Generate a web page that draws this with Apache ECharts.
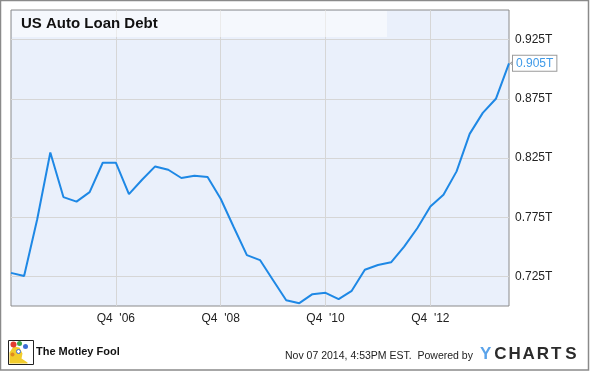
<!DOCTYPE html>
<html><head><meta charset="utf-8">
<script src="https://cdn.jsdelivr.net/npm/echarts@6/dist/echarts.min.js"></script>
<style>html,body{margin:0;padding:0;background:#fff}#c{width:590px;height:371px}</style>
</head><body><div id="c"></div><script>
const categories = ["Q4 '04","Q1 '05","Q2 '05","Q3 '05","Q4 '05","Q1 '06","Q2 '06","Q3 '06","Q4 '06","Q1 '07","Q2 '07","Q3 '07","Q4 '07","Q1 '08","Q2 '08","Q3 '08","Q4 '08","Q1 '09","Q2 '09","Q3 '09","Q4 '09","Q1 '10","Q2 '10","Q3 '10","Q4 '10","Q1 '11","Q2 '11","Q3 '11","Q4 '11","Q1 '12","Q2 '12","Q3 '12","Q4 '12","Q1 '13","Q2 '13","Q3 '13","Q4 '13","Q1 '14","Q2 '14"];
const autoLoanDebt = [0.728,0.7253,0.7733,0.8297,0.792,0.7882,0.7962,0.821,0.821,0.7945,0.8066,0.8179,0.8151,0.8081,0.810,0.8089,0.7906,0.7665,0.743,0.7388,0.7218,0.7049,0.7024,0.710,0.7111,0.7058,0.7128,0.7306,0.7346,0.7369,0.7502,0.7657,0.784,0.794,0.8137,0.8454,0.8631,0.875,0.905];
const xTickLabels = ["Q4 '06","Q4 '08","Q4 '10","Q4 '12"];
const yTickLabels = [0.725,0.775,0.825,0.875,0.925];

const chart = echarts.init(document.getElementById('c'), null, {renderer:'canvas'});
const FONT = 'Liberation Sans, Arial, sans-serif';
const lastIdx = autoLoanDebt.length - 1;
const isYTick = v => yTickLabels.some(t => Math.abs(t - v) < 1e-6);

const brand = 'YCHARTS'.split('');
const brandText = brand.map((ch, i) => ({
  type:'text', z:11, left:480 + i * 14.2, top:346,
  style:{text:ch, font:'bold 17px ' + FONT, fill: i === 0 ? '#5aa3ea' : '#2b2b2b'}
}));

chart.setOption({
  animation:false,
  backgroundColor:'#fff',
  grid:{left:11, right:81, top:10, bottom:65, show:true, backgroundColor:'#EAF0FB', borderColor:'#8a8a8a', borderWidth:1},
  xAxis:{
    type:'category', data:categories, boundaryGap:false,
    axisLine:{show:false}, axisTick:{show:false},
    axisLabel:{
      interval:(i, v) => xTickLabels.includes(v),
      formatter:v => v.replace(' ', '  '),
      color:'#222', fontSize:12, fontFamily:FONT, margin:7
    },
    splitLine:{show:true, interval:(i, v) => xTickLabels.includes(v), lineStyle:{color:'#d6d6d6', width:1}}
  },
  yAxis:{
    type:'value', position:'right', min:0.7, max:0.95, interval:0.025,
    axisLine:{show:false}, axisTick:{show:false},
    axisLabel:{formatter:v => isYTick(v) ? v.toFixed(3) + 'T' : '', color:'#222', fontSize:12, fontFamily:FONT, margin:6},
    splitLine:{show:true, lineStyle:{color:['rgba(0,0,0,0)','#d6d6d6'], width:1}}
  },
  series:[{
    type:'line', data:autoLoanDebt, symbol:'none', z:5,
    lineStyle:{color:'#1E88E5', width:2},
    endLabel:{
      show:true, formatter:p => p.value.toFixed(3) + 'T', color:'#3f9ae8', fontSize:12, fontFamily:FONT,
      backgroundColor:'#fff', borderColor:'#9a9a9a', borderWidth:1, padding:[2,3,1,3], distance:4
    },
    markPoint:{
      silent:true, symbol:'triangle', symbolSize:[8,5], symbolRotate:90, symbolOffset:[4,0],
      itemStyle:{color:'#fff', borderColor:'#9a9a9a', borderWidth:1},
      label:{show:false},
      data:[{coord:[lastIdx, autoLoanDebt[lastIdx]]}]
    }
  }],
  graphic:[
    {type:'rect', z:0, silent:true, shape:{x:0.5, y:0.5, width:588, height:369.5}, style:{fill:'none', stroke:'#8a8a8a', lineWidth:1.5}},
    {type:'rect', z:10, silent:true, shape:{x:12, y:11, width:375, height:26}, style:{fill:'rgba(255,255,255,0.5)'}},
    {type:'text', z:11, left:21, top:16, style:{text:'US Auto Loan Debt', font:'bold 15px ' + FONT, fill:'#111'}},
    {type:'group', left:8, top:340, z:10, children:[
      {type:'rect', shape:{x:0, y:0, width:25, height:24}, style:{fill:'#fff', stroke:'#222', lineWidth:1}},
      {type:'polygon', shape:{points:[[1,23],[1,12],[5,6],[11,7],[14,13],[13,18],[19,22],[19,23]]}, style:{fill:'#f2cc2c'}},
      {type:'circle', shape:{cx:5, cy:4, r:3}, style:{fill:'#e23b2e'}},
      {type:'circle', shape:{cx:11, cy:3, r:2.5}, style:{fill:'#3aa64a'}},
      {type:'circle', shape:{cx:17, cy:6, r:2.5}, style:{fill:'#3d6fd6'}},
      {type:'circle', shape:{cx:10, cy:11, r:2}, style:{fill:'#fff', stroke:'#3d6fd6', lineWidth:1}},
      {type:'circle', shape:{cx:4, cy:14, r:2}, style:{fill:'#e08a1e'}}
    ]},
    {type:'text', z:11, left:36, top:346, style:{text:'The Motley Fool', font:'bold 11px ' + FONT, fill:'#111'}},
    {type:'text', z:11, left:285, top:351, style:{text:'Nov 07 2014, 4:53PM EST.  Powered by', font:'10.5px ' + FONT, fill:'#222'}}
  ].concat(brandText)
});
</script></body></html>
